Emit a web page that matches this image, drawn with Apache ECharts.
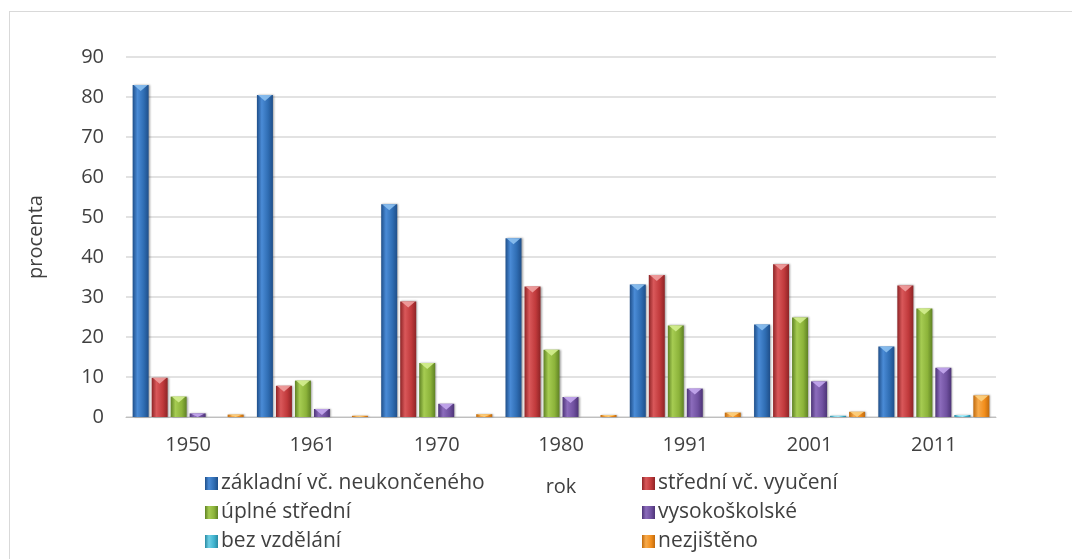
<!DOCTYPE html>
<html>
<head>
<meta charset="utf-8">
<script src="https://cdn.jsdelivr.net/npm/echarts@6/dist/echarts.min.js"></script>
<style>
  html, body { margin: 0; padding: 0; background: #fff; overflow: hidden; }
  #frame { position: absolute; left: 9px; top: 11px; width: 1100px; height: 600px; border: 1px solid #d9d9d9; box-sizing: border-box; }
  #chart { position: absolute; left: 0; top: 0; width: 1072px; height: 559px; }
</style>
</head>
<body>
<div id="frame"></div>
<div id="chart"></div>
<script>
const years = ['1950', '1961', '1970', '1980', '1991', '2001', '2011'];

const zakladni = [83.0, 80.5, 53.2, 44.7, 33.1, 23.1, 17.6];
const stredni = [9.8, 7.8, 28.9, 32.6, 35.5, 38.2, 32.9];
const uplne = [5.1, 9.1, 13.5, 16.8, 22.9, 24.9, 27.1];
const vysoko = [0.9, 2.0, 3.3, 5.0, 7.1, 8.9, 12.3];
const bez = [0, 0, 0, 0, 0, 0.3, 0.5];
const nezjisteno = [0.6, 0.3, 0.7, 0.5, 1.1, 1.3, 5.4];

const seriesDefs = [
    {name: 'základní vč. neukončeného', data: zakladni, color: '#2f6db3', dark: '#1f4f8a', light: '#4a8bd6', top: '#8cc0f0'},
    {name: 'střední vč. vyučení', data: stredni, color: '#c0393b', dark: '#8e2426', light: '#d9585a', top: '#f0a0a0'},
    {name: 'úplné střední', data: uplne, color: '#8cb33a', dark: '#5f8224', light: '#a6cc52', top: '#d4ee90'},
    {name: 'vysokoškolské', data: vysoko, color: '#7051a0', dark: '#4d3477', light: '#8c6cbc', top: '#c4a8ee'},
    {name: 'bez vzdělání', data: bez, color: '#3fb3cf', dark: '#2a8aa2', light: '#6fd0e6', top: '#b0eefa'},
    {name: 'nezjištěno', data: nezjisteno, color: '#f28e1c', dark: '#c06a0d', light: '#f8ab4c', top: '#fcd080'},
];

const font = 'Open Sans';
const textColor = '#404040';
const BAR_W = 16;
const BAR_STEP = 19;

function gradient(s) {
    return new echarts.graphic.LinearGradient(0, 0, 1, 0, [
        {offset: 0, color: s.dark},
        {offset: 0.3, color: s.light},
        {offset: 0.7, color: s.color},
        {offset: 1, color: s.dark},
    ]);
}

// draws one bevelled bar per data item, placed inside its year group
function makeRenderer(idx, s) {
    return function (params, api) {
        const base = api.coord([api.value(0), 0]);
        const top = api.coord([api.value(0), api.value(1)]);
        const groupW = seriesDefs.length * BAR_STEP - (BAR_STEP - BAR_W);
        const x = base[0] - groupW / 2 + idx * BAR_STEP;
        const h = base[1] - top[1];
        if (h <= 0) return null;
        const tri = Math.min(6, h);
        return {
            type: 'group',
            children: [
                {
                    type: 'rect',
                    shape: {x: x, y: top[1], width: BAR_W, height: h},
                    style: {fill: gradient(s), shadowColor: 'rgba(0,0,0,0.35)', shadowBlur: 2, shadowOffsetX: 1}
                },
                {
                    type: 'polygon',
                    shape: {points: [[x + 1, top[1]], [x + BAR_W - 1, top[1]], [x + BAR_W / 2, top[1] + tri]]},
                    style: {fill: s.top, opacity: 0.9}
                }
            ]
        };
    };
}

const chart = echarts.init(document.getElementById('chart'));

const legendCommon = {
    orient: 'vertical', top: 468, itemGap: 8,
    itemWidth: 13, itemHeight: 13, icon: 'rect',
    textStyle: {fontSize: 21, lineHeight: 21, color: textColor, padding: [0, 0, 0, -2]}
};

chart.setOption({
    animation: false,
    textStyle: {fontFamily: font},
    grid: {left: 126, right: 76, top: 57, bottom: 142},
    legend: [
        Object.assign({left: 200, data: [seriesDefs[0].name, seriesDefs[2].name, seriesDefs[4].name]}, legendCommon),
        Object.assign({left: 637, data: [seriesDefs[1].name, seriesDefs[3].name, seriesDefs[5].name]}, legendCommon)
    ],
    xAxis: {
        type: 'category',
        data: years,
        name: 'rok',
        nameLocation: 'middle',
        nameGap: 60,
        nameTextStyle: {fontSize: 20, color: textColor},
        axisLine: {lineStyle: {color: '#bfbfbf', width: 1}},
        axisTick: {show: false},
        axisLabel: {fontSize: 20, color: textColor, margin: 18}
    },
    yAxis: {
        type: 'value',
        min: 0, max: 90, interval: 10,
        name: 'procenta',
        nameLocation: 'middle',
        nameGap: 80,
        nameTextStyle: {fontSize: 20, color: textColor},
        axisLabel: {fontSize: 20, color: textColor, margin: 22},
        splitLine: {lineStyle: {color: '#d9d9d9', width: 1.5}}
    },
    series: seriesDefs.map((s, i) => ({
        name: s.name,
        type: 'custom',
        renderItem: makeRenderer(i, s),
        encode: {x: 0, y: 1},
        data: s.data.map((v, j) => [j, v]),
        itemStyle: {color: gradient(s)},
        legendHoverLink: false
    }))
});
</script>
</body>
</html>
